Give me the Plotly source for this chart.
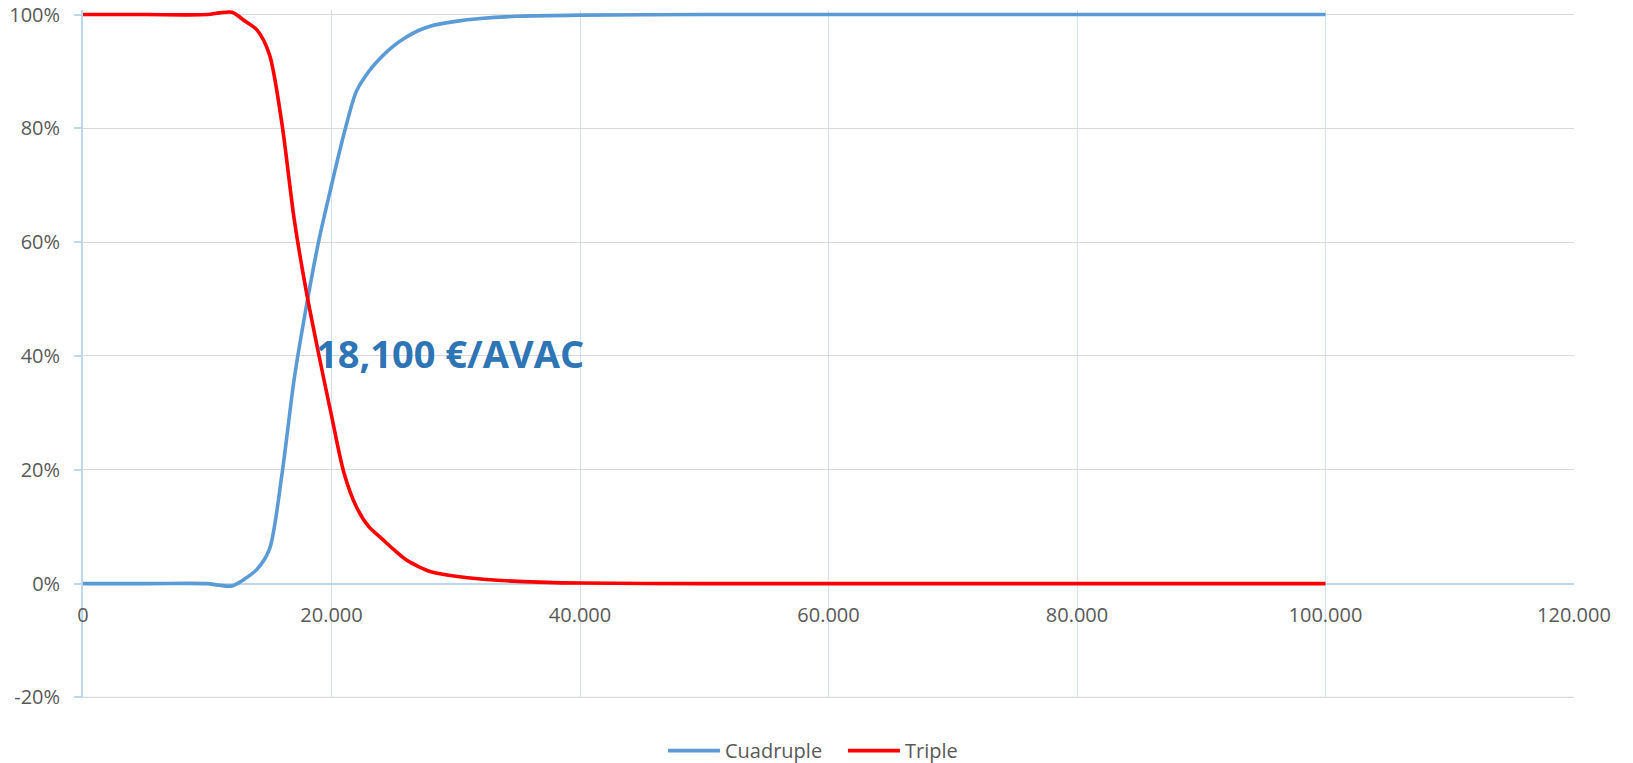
import plotly.graph_objects as go

# Willingness-to-pay thresholds (€/AVAC)
wtp = [0, 5000, 10000, 11000, 12000, 13000, 14000, 15000, 16000, 17000,
       18000, 19000, 20000, 21000, 22000, 23000, 24000, 25000, 26000, 27000,
       28000, 30000, 32000, 35000, 40000, 50000, 60000, 70000, 80000, 90000,
       100000]

# Probability of being cost-effective
cuadruple = [0.0, 0.0, 0.0, -0.003, -0.004, 0.008, 0.025, 0.06, 0.19, 0.36,
             0.49, 0.605, 0.70, 0.79, 0.865, 0.90, 0.925, 0.945, 0.96, 0.972,
             0.98, 0.988, 0.993, 0.997, 0.999, 1.0, 1.0, 1.0, 1.0, 1.0,
             1.0]
triple = [1.0, 1.0, 1.0, 1.003, 1.004, 0.989, 0.973, 0.93, 0.81, 0.64,
          0.51, 0.40, 0.295, 0.195, 0.135, 0.10, 0.08, 0.06, 0.042, 0.03,
          0.021, 0.013, 0.008, 0.004, 0.001, 0.0, 0.0, 0.0, 0.0, 0.0,
          0.0]

x_ticks = [0, 20000, 40000, 60000, 80000, 100000, 120000]
x_tick_labels = ["0", "20.000", "40.000", "60.000", "80.000", "100.000", "120.000"]
y_ticks = [-0.2, 0.0, 0.2, 0.4, 0.6, 0.8, 1.0]
y_tick_labels = ["-20%", "0%", "20%", "40%", "60%", "80%", "100%"]

threshold_label = "18,100 €/AVAC"

BLUE = "#5B9BD5"
RED = "#FF0000"
AXIS_BLUE = "#BDD7EE"
GRID_BLUE = "#D2E2F3"
GRID_GRAY = "#D9D9D9"
TEXT_GRAY = "#595959"
FONT = "Open Sans, Liberation Sans, sans-serif"

# small headroom so the thick lines at 100% are not clipped
Y_RANGE = [-0.201, 1.008]
zero_frac = (0 - Y_RANGE[0]) / (Y_RANGE[1] - Y_RANGE[0])

fig = go.Figure()
fig.add_trace(go.Scatter(
    x=wtp, y=cuadruple, name="Cuadruple", mode="lines",
    line=dict(color=BLUE, width=3.6, shape="spline", smoothing=0.8),
))
fig.add_trace(go.Scatter(
    x=wtp, y=triple, name="Triple", mode="lines",
    line=dict(color=RED, width=3.6, shape="spline", smoothing=0.8),
))

# bottom gridline at the lower edge of the value axis
fig.add_shape(
    type="line", xref="x domain", yref="y", x0=0, x1=1,
    y0=y_ticks[0], y1=y_ticks[0],
    line=dict(color=GRID_GRAY, width=1.5), layer="below",
)

fig.add_annotation(
    x=18570, y=0.4055, xref="x", yref="y", text=f"<b>{threshold_label}</b>",
    showarrow=False, xanchor="left", yanchor="middle",
    font=dict(family=FONT, size=38, color="#2E75B6"),
)

fig.update_layout(
    width=1633, height=763,
    margin=dict(l=83, r=59, t=9.5, b=65, autoexpand=False),
    paper_bgcolor="white", plot_bgcolor="white",
    font=dict(family=FONT, size=20, color=TEXT_GRAY),
    showlegend=True,
    legend=dict(
        orientation="h", x=0.5097, xanchor="center", y=-0.0765, yanchor="middle",
        font=dict(family=FONT, size=20, color=TEXT_GRAY),
        itemwidth=52, entrywidth=113, entrywidthmode="pixels",
    ),
    xaxis=dict(
        range=[0, 120000],
        tickvals=x_ticks, ticktext=x_tick_labels,
        showgrid=True, gridcolor=GRID_BLUE, gridwidth=1.3,
        zeroline=False, automargin=False, layer="below traces",
        anchor="free", position=zero_frac,
        showline=True, linecolor=AXIS_BLUE, linewidth=1.8,
        ticks="", ticklabelstandoff=13,
        tickfont=dict(family=FONT, size=20, color=TEXT_GRAY),
    ),
    yaxis=dict(
        range=Y_RANGE,
        tickvals=y_ticks, ticktext=y_tick_labels,
        showgrid=True, gridcolor=GRID_GRAY, gridwidth=1.3,
        zeroline=False, automargin=False, layer="below traces",
        showline=True, linecolor=AXIS_BLUE, linewidth=1.8,
        ticks="outside", ticklen=7, tickcolor=AXIS_BLUE, tickwidth=1.5,
        ticklabelstandoff=10,
        tickfont=dict(family=FONT, size=20, color=TEXT_GRAY),
    ),
)

fig.write_html("out.html")
